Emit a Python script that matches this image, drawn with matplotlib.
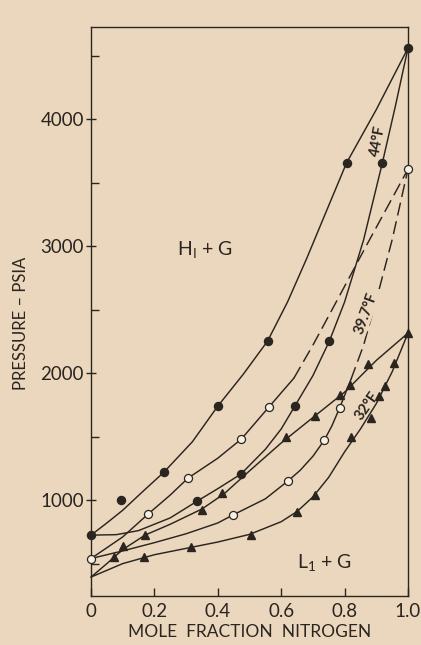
import matplotlib
matplotlib.use("Agg")
import matplotlib.pyplot as plt
from matplotlib.ticker import MultipleLocator, FixedLocator

plt.rcParams['font.family'] = ['Lato', 'DejaVu Sans']

# ---------------- data ----------------
# 44 F  (filled circles)
f44_up_x = [0.0, 0.23, 0.40, 0.557, 0.806, 1.0]
f44_up_y = [724, 1220, 1740, 2252, 3654, 4560]
f44_lo_x = [0.335, 0.473, 0.643, 0.752, 0.919]
f44_lo_y = [992, 1205, 1740, 2252, 3654]
f44_extra_x = [0.095]
f44_extra_y = [1000]

# 39.7 F (open circles)
o39_up_x = [0.0, 0.18, 0.306, 0.474, 0.561, 1.0]
o39_up_y = [540, 890, 1173, 1480, 1732, 3606]
o39_lo_x = [0.447, 0.621, 0.736, 0.784]
o39_lo_y = [882, 1150, 1472, 1724]

# 32 F (triangles)
t32_up_x = [0.073, 0.101, 0.170, 0.349, 0.414, 0.616, 0.706, 0.787, 0.818, 0.873, 1.0]
t32_up_y = [551, 638, 724, 920, 1055, 1496, 1660, 1827, 1905, 2070, 2315]
t32_lo_x = [0.168, 0.316, 0.504, 0.651, 0.707, 0.821, 0.883, 0.907, 0.928, 0.955]
t32_lo_y = [551, 630, 724, 906, 1040, 1496, 1646, 1819, 1898, 2079]

# curve traces
c44_up_x = [0.0, 0.05, 0.1, 0.16, 0.23, 0.32, 0.40, 0.48, 0.557, 0.62, 0.68, 0.74, 0.806, 0.9, 1.0]
c44_up_y = [724, 820, 920, 1060, 1220, 1460, 1740, 1990, 2252, 2560, 2900, 3260, 3654, 4075, 4560]
c44_lo_x = [0.0, 0.08, 0.15, 0.25, 0.335, 0.40, 0.473, 0.55, 0.60, 0.643, 0.70, 0.752, 0.80, 0.86, 0.919, 0.96, 1.0]
c44_lo_y = [724, 728, 760, 860, 992, 1090, 1205, 1400, 1560, 1740, 1980, 2252, 2560, 3050, 3654, 4100, 4560]

c39_up_solid_x = [0.0, 0.1, 0.18, 0.25, 0.306, 0.40, 0.474, 0.561, 0.60, 0.64]
c39_up_solid_y = [540, 710, 890, 1040, 1173, 1330, 1480, 1732, 1845, 1960]
c39_up_dash_x = [0.64, 0.70, 0.78, 0.87, 1.0]
c39_up_dash_y = [1960, 2220, 2590, 3010, 3606]
c39_lo_solid_x = [0.0, 0.1, 0.2, 0.3, 0.4, 0.447, 0.55, 0.621, 0.66, 0.70, 0.736, 0.76, 0.784, 0.82]
c39_lo_solid_y = [540, 600, 665, 735, 820, 882, 1010, 1150, 1235, 1345, 1472, 1585, 1724, 1950]
c39_lo_dash_x = [0.82, 0.86, 0.90, 0.95, 1.0]
c39_lo_dash_y = [1950, 2220, 2575, 3050, 3606]

c32_up_x = [0.0, 0.05, 0.1, 0.17, 0.25, 0.35, 0.42, 0.5, 0.6, 0.7, 0.8, 0.9, 1.0]
c32_up_y = [394, 500, 610, 724, 810, 930, 1050, 1230, 1450, 1650, 1850, 2100, 2315]
c32_lo_x = [0.0, 0.1, 0.2, 0.3, 0.4, 0.5, 0.6, 0.65, 0.7, 0.75, 0.8, 0.85, 0.9, 0.95, 1.0]
c32_lo_y = [394, 500, 570, 620, 670, 730, 830, 910, 1025, 1180, 1380, 1560, 1760, 2010, 2315]

y_major = [1000, 2000, 3000, 4000]
x_ticks = [0, 0.2, 0.4, 0.6, 0.8, 1.0]
x_ticklabels = ['0', '0.2', '0.4', '0.6', '0.8', '1.0']

# ---------------- drawing ----------------
paper = '#ebd7bd'
ink = '#2b2520'

fig = plt.figure(figsize=(4.21, 6.45), dpi=100, facecolor=paper)
ax = fig.add_axes([91/421, 49/645, 317/421, 569/645], facecolor=paper)

lw = 1.05
for xs, ys in [(c44_up_x, c44_up_y), (c44_lo_x, c44_lo_y),
               (c39_up_solid_x, c39_up_solid_y), (c39_lo_solid_x, c39_lo_solid_y),
               (c32_up_x, c32_up_y), (c32_lo_x, c32_lo_y)]:
    ax.plot(xs, ys, color=ink, lw=lw, solid_capstyle='round',
            solid_joinstyle='round', clip_on=False)
for xs, ys in [(c39_up_dash_x, c39_up_dash_y), (c39_lo_dash_x, c39_lo_dash_y)]:
    ax.plot(xs, ys, color=ink, lw=lw, dashes=(9, 4), clip_on=False)

ms = 5.8
ax.plot(f44_up_x + f44_lo_x + f44_extra_x, f44_up_y + f44_lo_y + f44_extra_y,
        ls='none', marker='o', ms=ms, mfc=ink, mec=ink, clip_on=False, zorder=5)
ax.plot(o39_up_x + o39_lo_x, o39_up_y + o39_lo_y,
        ls='none', marker='o', ms=ms, mfc='#f7efe4', mec=ink, mew=0.9, clip_on=False, zorder=5)
ax.plot(t32_up_x + t32_lo_x, t32_up_y + t32_lo_y,
        ls='none', marker='^', ms=ms + 0.6, mfc=ink, mec=ink, clip_on=False, zorder=5)

ax.set_xlim(0, 1.0)
ax.set_ylim(245, 4725)

ax.xaxis.set_major_locator(FixedLocator(x_ticks))
ax.set_xticklabels(x_ticklabels)
ax.yaxis.set_major_locator(FixedLocator(y_major))
ax.yaxis.set_minor_locator(MultipleLocator(500))

for s in ax.spines.values():
    s.set_color(ink)
    s.set_linewidth(1.0)

ax.tick_params(axis='x', direction='in', length=6, width=1.0, color=ink,
               labelsize=13.5, labelcolor=ink, pad=5)
ax.tick_params(axis='y', which='major', direction='inout', length=7, width=1.0,
               color=ink, labelsize=13.5, labelcolor=ink, pad=1.5)
ax.tick_params(axis='y', which='minor', direction='in', length=6, width=1.0, color=ink)

ax.set_xlabel('MOLE  FRACTION  NITROGEN', fontsize=12.5, color=ink, labelpad=3)
ax.set_ylabel('PRESSURE – PSIA', fontsize=12, color=ink)
ax.yaxis.set_label_coords(-0.195, 0.48)

ax.text(0.27, 2970, 'H$_\\mathregular{I}$ + G', fontsize=14, color=ink, va='center', ha='left')
ax.text(0.65, 504, 'L$_\\mathregular{1}$ + G', fontsize=14, color=ink, va='center', ha='left')
ax.text(0.905, 3830, '44°F', fontsize=10.5, color=ink, rotation=79,
        ha='center', va='center', fontweight='bold')
ax.text(0.867, 2472, '39.7°F', fontsize=10.5, color=ink, rotation=70,
        ha='center', va='center', fontweight='bold',
        bbox=dict(facecolor=paper, edgecolor='none', pad=0.3))
ax.text(0.87, 1740, '32°F', fontsize=10.5, color=ink, rotation=55,
        ha='center', va='center', fontweight='bold')

fig.savefig('out.png', dpi=100, facecolor=paper)
